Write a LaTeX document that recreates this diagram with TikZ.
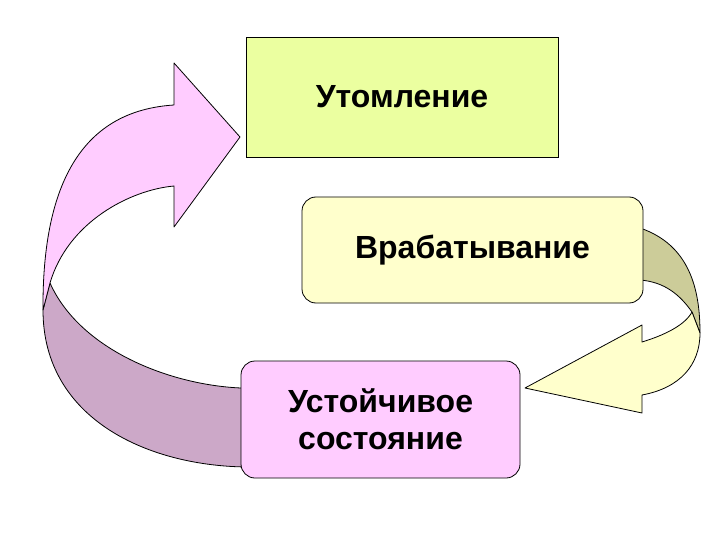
\documentclass[tikz,border=0pt]{standalone}
\usepackage{fontspec}
\setmainfont{Liberation Sans}
\definecolor{limebox}{RGB}{235,255,160}
\definecolor{creambox}{RGB}{255,255,204}
\definecolor{pinkbox}{RGB}{255,204,255}
\definecolor{mauveband}{RGB}{204,168,200}
\definecolor{oliveband}{RGB}{204,204,153}
\begin{document}
\begin{tikzpicture}[
  x=1pt, y=-1pt,
  box/.style={draw, line width=0.8pt, inner sep=0pt, align=center, font=\fontsize{32}{37}\selectfont\bfseries},
  band/.style={draw, line width=0.8pt, line join=round}
]
\useasboundingbox (0,0) rectangle (720,540);

\draw[band, fill=mauveband] (43,310) .. controls (43,420) and (150,467) .. (250,467) -- (250,388)
  -- (241,388) .. controls (170,385) and (80,350) .. (50,283) -- cycle;
\draw[band, fill=pinkbox] (43,310) .. controls (42,165) and (95,110) .. (174,105) -- (174,63) -- (240,137)
  -- (174,227) -- (174,186) .. controls (130,190) and (68,222) .. (50,283) -- cycle;
\draw[band, fill=oliveband] (630,228) -- (640,228) .. controls (690,245) and (700,290) .. (700,333)
  -- (692,312) .. controls (680,295) and (665,282) .. (640,280) -- (630,280) -- cycle;
\draw[band, fill=creambox] (692,312) -- (700,333) .. controls (700,365) and (680,388) .. (642,395)
  -- (642,413) -- (525,388) -- (642,325) -- (642,342) .. controls (665,335) and (685,325) .. (692,312) -- cycle;

\node[box, fill=limebox, minimum width=312pt, minimum height=120pt] (fatigue) at (402,97) {Утомление};
\node[box, fill=creambox, rounded corners=14pt, minimum width=341pt, minimum height=106pt] (warmup) at (472.5,250) {Врабатывание};
\node[box, fill=pinkbox, rounded corners=14pt, minimum width=279pt, minimum height=117pt] (steady) at (380.5,419.5) {Устойчивое\\состояние};
\end{tikzpicture}
\end{document}
